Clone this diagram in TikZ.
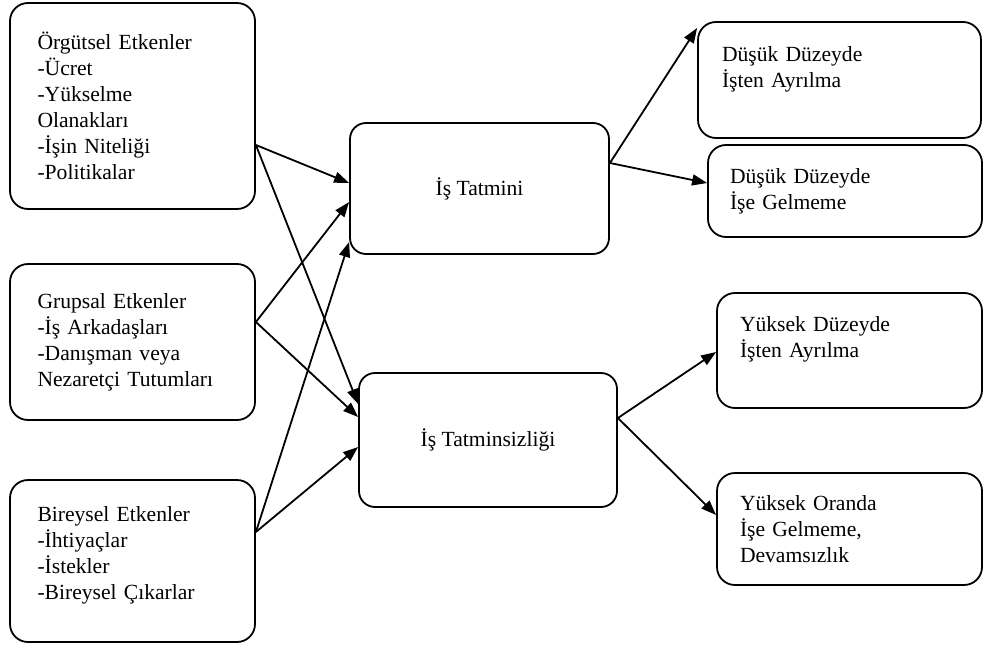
\documentclass[tikz,border=0pt]{standalone}
\usepackage{fontspec}
\setmainfont{Liberation Serif}
\usepackage{tikz}
\usetikzlibrary{arrows.meta,positioning}

\begin{document}
\begin{tikzpicture}[x=0.5pt, y=-0.5pt,
    kutu/.style={draw, line width=0.9pt, rounded corners=9pt, align=left, font=\fontsize{10.8}{13}\selectfont},
    orta/.style={draw, line width=0.9pt, rounded corners=8pt, align=center, font=\fontsize{10.8}{13}\selectfont},
    ok/.style={-{Triangle[length=7.5pt,width=5.5pt]}, line width=0.9pt}]
    \useasboundingbox (0,0) rectangle (985,648);

    \node[kutu, minimum width=122.5pt, minimum height=103pt, text width=95pt, inner xsep=13.75pt] (org) at (132.5,106) {Örgütsel Etkenler\\-Ücret\\-Yükselme\\Olanakları\\-İşin Niteliği\\-Politikalar};
    \node[kutu, minimum width=122.5pt, minimum height=78pt, text width=95pt, inner xsep=13.75pt] (grp) at (132.5,342) {Grupsal Etkenler\\-İş Arkadaşları\\-Danışman veya\\Nezaretçi Tutumları};
    \node[kutu, minimum width=122.5pt, minimum height=81pt, text width=95pt, inner xsep=13.75pt] (bir) at (132.5,561) {Bireysel Etkenler\\-İhtiyaçlar\\-İstekler\\-Bireysel Çıkarlar\\[-5pt]\mbox{}};

    \node[orta, minimum width=129.5pt, minimum height=65.5pt] (tat) at (479.5,188.5) {İş Tatmini};
    \node[orta, minimum width=129pt, minimum height=67pt] (tsz) at (488,440) {İş Tatminsizliği};

    \node[kutu, minimum width=141.5pt, minimum height=58pt, text width=117.5pt, inner xsep=12pt] (ayr1) at (839.5,80) {Düşük Düzeyde\\İşten Ayrılma\\\mbox{}};
    \node[kutu, minimum width=137pt, minimum height=46pt, text width=115pt, inner xsep=11pt] (gel1) at (845,191) {Düşük Düzeyde\\İşe Gelmeme};
    \node[kutu, minimum width=132.5pt, minimum height=57.5pt, text width=109.5pt, inner xsep=11.5pt] (ayr2) at (849.5,350.5) {Yüksek Düzeyde\\İşten Ayrılma\\\mbox{}};
    \node[kutu, minimum width=132.5pt, minimum height=56pt, text width=109.5pt, inner xsep=11.5pt] (gel2) at (849.5,529) {Yüksek Oranda\\İşe Gelmeme,\\Devamsızlık};

    \draw[ok] (org.east |- 0,145) -- (tat.west |- 0,183);
    \draw[ok] (org.east |- 0,145) -- (tsz.west |- 0,404);
    \draw[ok] (grp.east |- 0,322) -- (tat.west |- 0,202);
    \draw[ok] (grp.east |- 0,322) -- (tsz.west |- 0,417);
    \draw[ok] (bir.east |- 0,532) -- (tat.west |- 0,242);
    \draw[ok] (bir.east |- 0,532) -- (tsz.west |- 0,447);

    \draw[ok] (tat.east |- 0,163) -- (ayr1.west |- 0,28);
    \draw[ok] (tat.east |- 0,163) -- (gel1.west |- 0,183);
    \draw[ok] (tsz.east |- 0,418) -- (ayr2.west |- 0,352);
    \draw[ok] (tsz.east |- 0,418) -- (gel2.west |- 0,515);
\end{tikzpicture}
\end{document}
